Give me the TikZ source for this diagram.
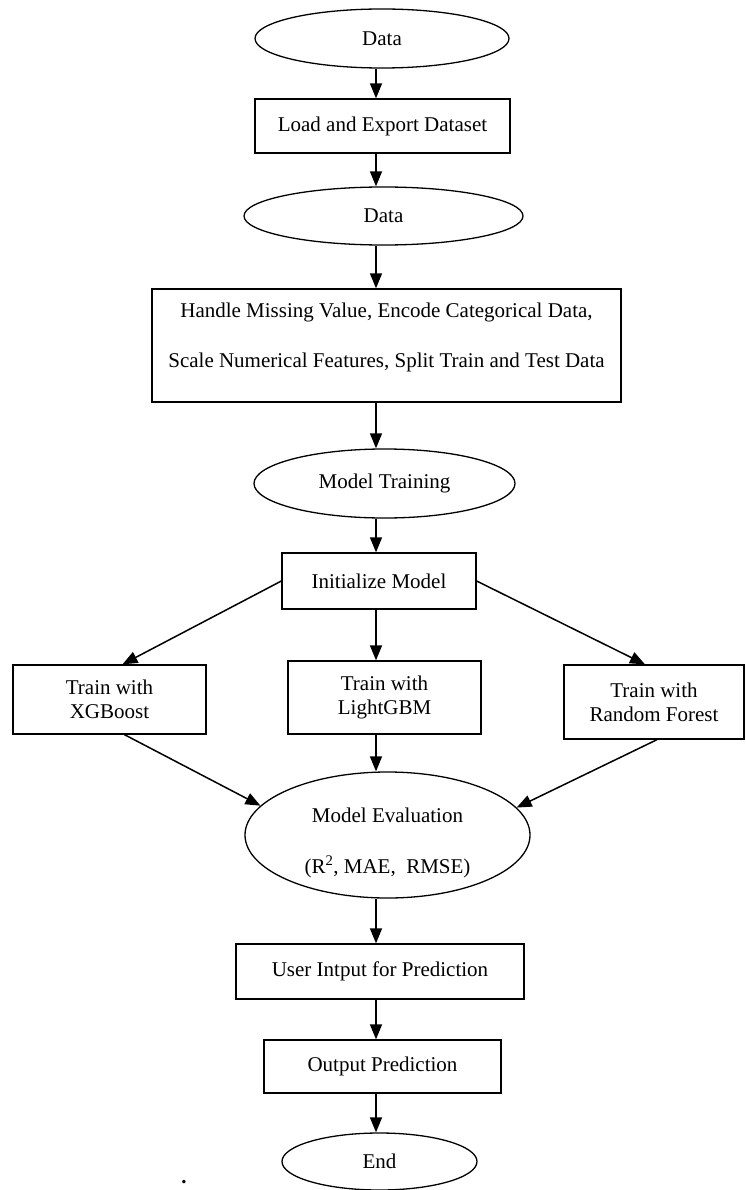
\documentclass[tikz,border=0pt]{standalone}
\usepackage{fontspec}
\setmainfont{Liberation Serif}
\usetikzlibrary{shapes.geometric,arrows.meta}

\begin{document}
\begin{tikzpicture}[x=1pt, y=-1pt, >={Triangle[length=15pt,width=12pt]},
	font=\fontsize{21}{24}\selectfont,
	box/.style={draw, line width=1.3pt, rectangle, inner sep=0pt, align=center},
	oval/.style={draw, line width=1.3pt, ellipse, inner sep=0pt, align=center},
	link/.style={->, line width=1.5pt}]
	\fill [white] (0,0) rectangle (746,1190);
	\useasboundingbox (0,0) rectangle (746,1190);
	\coordinate (spine) at (376,0);
	\node [oval, minimum width=254, minimum height=59] (data1) at (382,38.5) {Data};
	\node [box, minimum width=255, minimum height=54] (load) at (382.5,126) {Load and Export Dataset};
	\node [oval, minimum width=279, minimum height=58] (data2) at (383.5,216) {Data};
	\node [box, minimum width=469, minimum height=113] (prep) at (386.5,345.5) {Handle Missing Value, Encode Categorical Data,\\[26pt] Scale Numerical Features, Split Train and Test Data\rule[-21pt]{0pt}{21pt}};
	\node [oval, minimum width=261, minimum height=69] (train) at (384.5,483.5) {Model Training};
	\node [box, minimum width=194, minimum height=56] (init) at (379,581) {Initialize Model};
	\node [box, minimum width=193, minimum height=69] (xgb) at (109.5,699.5) {Train with\\XGBoost};
	\node [box, minimum width=193, minimum height=73] (lgbm) at (384.5,697.5) {Train with\\LightGBM};
	\node [box, minimum width=180, minimum height=74] (rf) at (654,702) {Train with\\Random Forest};
	\node [oval, minimum width=285, minimum height=126] (eval) at (387.5,835) {\rule{0pt}{30pt}Model Evaluation\\[27pt] (R\textsuperscript{2}, MAE,~ RMSE)};
	\node [box, minimum width=288, minimum height=55] (input) at (380,971.5) {User Intput for Prediction};
	\node [box, minimum width=237, minimum height=53] (output) at (382.5,1066.5) {Output Prediction};
	\node [oval, minimum width=195, minimum height=57] (end) at (379.5,1161.5) {End};
	\node (dot) at (184,1182) {\textbf{.}};
	\draw [link] (data1.south -| spine) -- (load.north -| spine);
	\draw [link] (load.south -| spine) -- (data2.north -| spine);
	\draw [link] (data2.south -| spine) -- (prep.north -| spine);
	\draw [link] (prep.south -| spine) -- (train.north -| spine);
	\draw [link] (train.south -| spine) -- (init.north -| spine);
	\draw [link] (init.west) -- ([xshift=13pt]xgb.north);
	\draw [link] (init.south -| spine) -- (lgbm.north -| spine);
	\draw [link] (init.east) -- ([xshift=-9pt]rf.north);
	\draw [link] ([xshift=15pt]xgb.south) -- (eval.167);
	\draw [link] (lgbm.south -| spine) -- (eval.north -| spine);
	\draw [link] ([xshift=3pt]rf.south) -- (eval.12);
	\draw [link] (eval.south -| spine) -- (input.north -| spine);
	\draw [link] (input.south -| spine) -- (output.north -| spine);
	\draw [link] (output.south -| spine) -- (end.north -| spine);
\end{tikzpicture}
\end{document}
